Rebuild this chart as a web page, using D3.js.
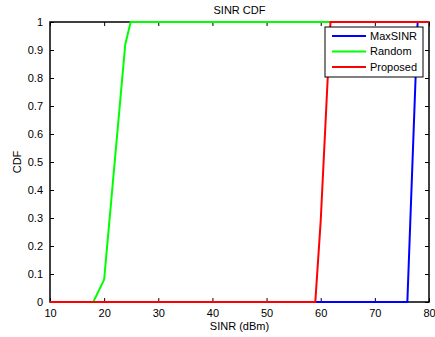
<!DOCTYPE html>
<html>
<head>
<meta charset="utf-8">
<script src="https://cdn.jsdelivr.net/npm/d3@7"></script>
<style>
  body { margin: 0; background: #fff; }
  text { font-family: "Liberation Sans", Arial, sans-serif; fill: #000; }
</style>
</head>
<body>
<div id="chart"></div>
<script>
var width = 435,
    height = 337;

// data
var xTicks = [10, 20, 30, 40, 50, 60, 70, 80];
var yTicks = [0, 0.1, 0.2, 0.3, 0.4, 0.5, 0.6, 0.7, 0.8, 0.9, 1];
var maxSinrX = [10, 76, 77.9, 80];
var maxSinrY = [0, 0, 1, 1];
var randomX = [10, 18, 20, 23.9, 24.9, 80];
var randomY = [0, 0, 0.08, 0.92, 1, 1];
var proposedX = [10, 59, 60, 61.8, 80];
var proposedY = [0, 0, 0.29, 1, 1];
var seriesNames = ["MaxSINR", "Random", "Proposed"];
var colors = ["#0000ff", "#00ff00", "#ff0000"];

var margin = {left: 50, right: 6, top: 22, bottom: 35};

var x = d3.scaleLinear().domain([10, 80]).range([margin.left, width - margin.right]);
var y = d3.scaleLinear().domain([0, 1]).range([height - margin.bottom, margin.top]);

var svg = d3.select("#chart").append("svg")
    .attr("width", width)
    .attr("height", height)

var series = [
  {name: seriesNames[0], xs: maxSinrX, ys: maxSinrY, color: colors[0]},
  {name: seriesNames[1], xs: randomX, ys: randomY, color: colors[1]},
  {name: seriesNames[2], xs: proposedX, ys: proposedY, color: colors[2]}
];

var line = d3.line()
    .x(function(d){return x(d[0])})
    .y(function(d){return y(d[1])})

/* axes: ticks inside, on all four sides like matlab */
var tl = 4;
svg.append("g")
    .attr("transform", "translate(0," + y(0) + ")")
    .call(d3.axisBottom(x).tickValues(xTicks).tickSize(-tl).tickPadding(7).tickFormat(d3.format("d")))
    .call(function(g){ g.select(".domain").remove() })
svg.append("g")
    .attr("transform", "translate(0," + y(1) + ")")
    .call(d3.axisTop(x).tickValues(xTicks).tickSize(-tl).tickFormat(""))
    .call(function(g){ g.select(".domain").remove() })
svg.append("g")
    .attr("transform", "translate(" + x(10) + ",0)")
    .call(d3.axisLeft(y).tickValues(yTicks).tickSize(-tl).tickPadding(7).tickFormat(function(d){ return d3.format("~g")(d) }))
    .call(function(g){ g.select(".domain").remove() })
svg.append("g")
    .attr("transform", "translate(" + x(80) + ",0)")
    .call(d3.axisRight(y).tickValues(yTicks).tickSize(-tl).tickFormat(""))
    .call(function(g){ g.select(".domain").remove() })

svg.selectAll(".tick text").style("font-size", "11px").style("font-family", "Liberation Sans, Arial, sans-serif")
svg.selectAll(".tick line").attr("stroke", "#000")

/* frame */
svg.append("rect")
    .attr("x", x(10))
    .attr("y", y(1))
    .attr("width", x(80) - x(10))
    .attr("height", y(0) - y(1))
    .attr("fill", "none")
    .attr("stroke", "#000")
    .attr("stroke-width", 1.5)

/* series lines */
series.forEach(function(s){
  svg.append("path")
      .datum(d3.zip(s.xs, s.ys))
      .attr("d", line)
      .attr("fill", "none")
      .attr("stroke", s.color)
      .attr("stroke-width", 2)
})

/* titles */
svg.append("text")
    .attr("x", (x(10) + x(80)) / 2)
    .attr("y", 14)
    .attr("text-anchor", "middle")
    .style("font-size", "11px")
    .text("SINR CDF")
svg.append("text")
    .attr("x", (x(10) + x(80)) / 2)
    .attr("y", 330)
    .attr("text-anchor", "middle")
    .style("font-size", "11px")
    .text("SINR (dBm)")
svg.append("text")
    .attr("transform", "translate(21," + (y(0.5)) + ") rotate(-90)")
    .attr("text-anchor", "middle")
    .style("font-size", "11px")
    .text("CDF")

/* legend */
var lg = svg.append("g").attr("transform", "translate(325,27)")
lg.append("rect")
    .attr("width", 98)
    .attr("height", 50)
    .attr("fill", "#fff")
    .attr("stroke", "#000")
    .attr("stroke-width", 1)
var item = lg.selectAll("g.item")
    .data(series)
    .enter()
    .append("g")
    .attr("class", "item")
    .attr("transform", function(d, i){return "translate(0," + (9 + i * 15.5) + ")"})
item.append("line")
    .attr("x1", 7).attr("x2", 41)
    .attr("stroke", function(d){return d.color})
    .attr("stroke-width", 2)
item.append("text")
    .attr("x", 45)
    .attr("dy", "0.35em")
    .style("font-size", "11px")
    .text(function(d){return d.name})
</script>
</body>
</html>
